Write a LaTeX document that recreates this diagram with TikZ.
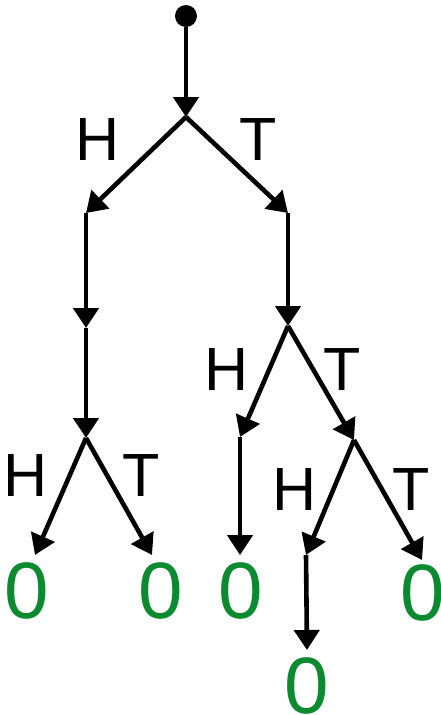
\documentclass[tikz,border=0pt]{standalone}
\usepackage{fontspec}
\setmainfont{Liberation Sans}
\usepackage{tikz}
\usetikzlibrary{arrows.meta,positioning}
\definecolor{dgreen}{HTML}{0B8A30}
\tikzset{
  arr/.style={-{Triangle[length=20pt,width=25pt]},line width=4.6pt,black},
  lbl/.style={font=\fontsize{61}{61}\selectfont,inner sep=0pt},
  zero/.style={font=\fontsize{80}{80}\selectfont,text=dgreen,inner sep=0pt},
}
\begin{document}
\begin{tikzpicture}[x=1pt,y=-1pt,
  dot/.style={circle,fill=black,inner sep=0pt,minimum size=22pt}]
\useasboundingbox (0,0) rectangle (440,715);
% start of the tree
\node[dot] (start) at (186,16) {};
% branch points
\coordinate (s0) at (186,117);
\coordinate (sH) at (86,213);
\coordinate (sT) at (288,213);
\coordinate (sHx) at (86,328);
\coordinate (sHy) at (86,438);
\coordinate (sTx) at (288,326);
\coordinate (sTH) at (240,437);
\coordinate (sTT) at (354,440);
\coordinate (sTTH) at (306,555);
% leaf ends
\coordinate (lHH) at (35,555);
\coordinate (lHT) at (152,555);
\coordinate (lTH) at (240,555);
\coordinate (lTTH) at (307,650);
\coordinate (lTTT) at (422,560);
% edges
\foreach \a/\b in {start/s0,s0/sH,s0/sT,sH/sHx,sHx/sHy,sHy/lHH,sHy/lHT,
                   sT/sTx,sTx/sTH,sTx/sTT,sTH/lTH,sTT/sTTH,sTT/lTTT,sTTH/lTTH}
  \draw[arr] (\a) -- (\b);
% coin labels
\node[lbl] (h0) at (98,140) {H};
\node[lbl] (t0) at (258,140) {T};
\node[lbl] (h1) at (26,476) {H};
\node[lbl] (t1) at (141,476) {T};
\node[lbl] (h2) at (227,370) {H};
\node[lbl] (t2) at (342,370) {T};
\node[lbl] (h3) at (295,490) {H};
\node[lbl] (t3) at (411,490) {T};
% outcomes
\node[zero] (zHH) at (27,591) {0};
\node[zero] (zHT) at (161,591) {0};
\node[zero] (zTH) at (241,591) {0};
\node[zero] (zTTH) at (307,686) {0};
\node[zero] (zTTT) at (423,593) {0};
\end{tikzpicture}
\end{document}
